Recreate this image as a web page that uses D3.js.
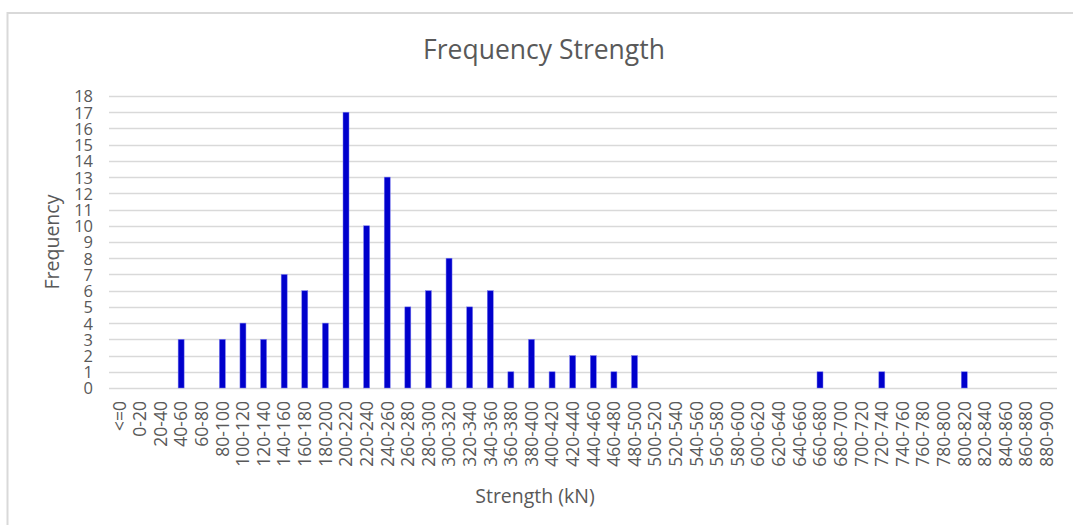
<!DOCTYPE html>
<html>
<head>
<meta charset="utf-8">
<script src="https://cdn.jsdelivr.net/npm/d3@7"></script>
<style>
  body { margin: 0; background: #fff; }
  text { font-family: "Open Sans", "Noto Sans", sans-serif; fill: #595959; }
</style>
</head>
<body>
<div id="chart"></div>
<script>
const categories = ["<=0", "0-20", "20-40", "40-60", "60-80", "80-100", "100-120", "120-140",
  "140-160", "160-180", "180-200", "200-220", "220-240", "240-260", "260-280", "280-300",
  "300-320", "320-340", "340-360", "360-380", "380-400", "400-420", "420-440", "440-460",
  "460-480", "480-500", "500-520", "520-540", "540-560", "560-580", "580-600", "600-620",
  "620-640", "640-660", "660-680", "680-700", "700-720", "720-740", "740-760", "760-780",
  "780-800", "800-820", "820-840", "840-860", "860-880", "880-900"];
const frequency = [0, 0, 0, 3, 0, 3, 4, 3,
  7, 6, 4, 17, 10, 13, 5, 6,
  8, 5, 6, 1, 3, 1, 2, 2,
  1, 2, 0, 0, 0, 0, 0, 0,
  0, 0, 1, 0, 0, 1, 0, 0,
  0, 1, 0, 0, 0, 0];
const yTicks = d3.range(0, 19);

const W = 1073, H = 525;
const margin = { TOP: 96, BOTTOM: 137, LEFT: 109, RIGHT: 16 };
const width = W - margin.LEFT - margin.RIGHT;
const height = H - margin.TOP - margin.BOTTOM;

const svg = d3.select('#chart')
  .append('svg')
    .attr('width', W)
    .attr('height', H);

// chart frame (only top and left edges are inside the picture)
svg.append('rect')
  .attr('x', 7.5).attr('y', 13)
  .attr('width', 1080).attr('height', 530)
  .attr('fill', '#fff')
  .attr('stroke', '#d9d9d9')
  .attr('stroke-width', 2);

svg.append('text')
  .attr('x', 544).attr('y', 59)
  .attr('text-anchor', 'middle')
  .attr('font-size', 26.5)
  .text('Frequency Strength');

const g = svg.append('g')
  .attr('transform', `translate(${margin.LEFT}, ${margin.TOP})`);

const x = d3.scaleBand().domain(categories).range([0, width]);
const y = d3.scaleLinear().domain([0, 18]).range([height, 0]);

// gridlines
g.append('g')
  .selectAll('line')
  .data(yTicks)
  .join('line')
    .attr('x1', 0).attr('x2', width)
    .attr('y1', d => Math.round(y(d)) + 0.5)
    .attr('y2', d => Math.round(y(d)) + 0.5)
    .attr('stroke', '#d9d9d9')
    .attr('stroke-width', 1.5);

const yAxis = g.append('g')
  .call(d3.axisLeft(y).tickValues(yTicks).tickSize(0).tickPadding(16));
yAxis.select('.domain').remove();
yAxis.selectAll('text')
  .attr('font-size', 16.5)
  .attr('dy', '0.36em')
  .style('fill', '#595959');

const barW = 6;
g.append('g')
  .selectAll('rect')
  .data(categories.map((c, i) => ({ c, v: frequency[i] })).filter(d => d.v > 0))
  .join('rect')
    .attr('x', d => x(d.c) + x.bandwidth() / 2 - barW / 2)
    .attr('y', d => y(d.v))
    .attr('width', barW)
    .attr('height', d => y(0) - y(d.v))
    .attr('fill', '#0000cc')
    .attr('stroke', '#7b7bf0')
    .attr('stroke-width', 0.5);

const xAxis = g.append('g')
  .attr('transform', `translate(0, ${height})`)
  .call(d3.axisBottom(x).tickSize(0).tickPadding(0));
xAxis.select('.domain').remove();
xAxis.selectAll('text')
  .attr('font-size', 17.5)
  .attr('transform', 'rotate(-90)')
  .attr('text-anchor', 'end')
  .attr('x', -13)
  .attr('y', 0)
  .attr('dy', '0.36em')
  .style('fill', '#595959');

svg.append('text')
  .attr('transform', 'translate(59, 242) rotate(-90)')
  .attr('text-anchor', 'middle')
  .attr('font-size', 19.5)
  .text('Frequency');

svg.append('text')
  .attr('x', 535).attr('y', 503)
  .attr('text-anchor', 'middle')
  .attr('font-size', 19.5)
  .text('Strength (kN)');
</script>
</body>
</html>
